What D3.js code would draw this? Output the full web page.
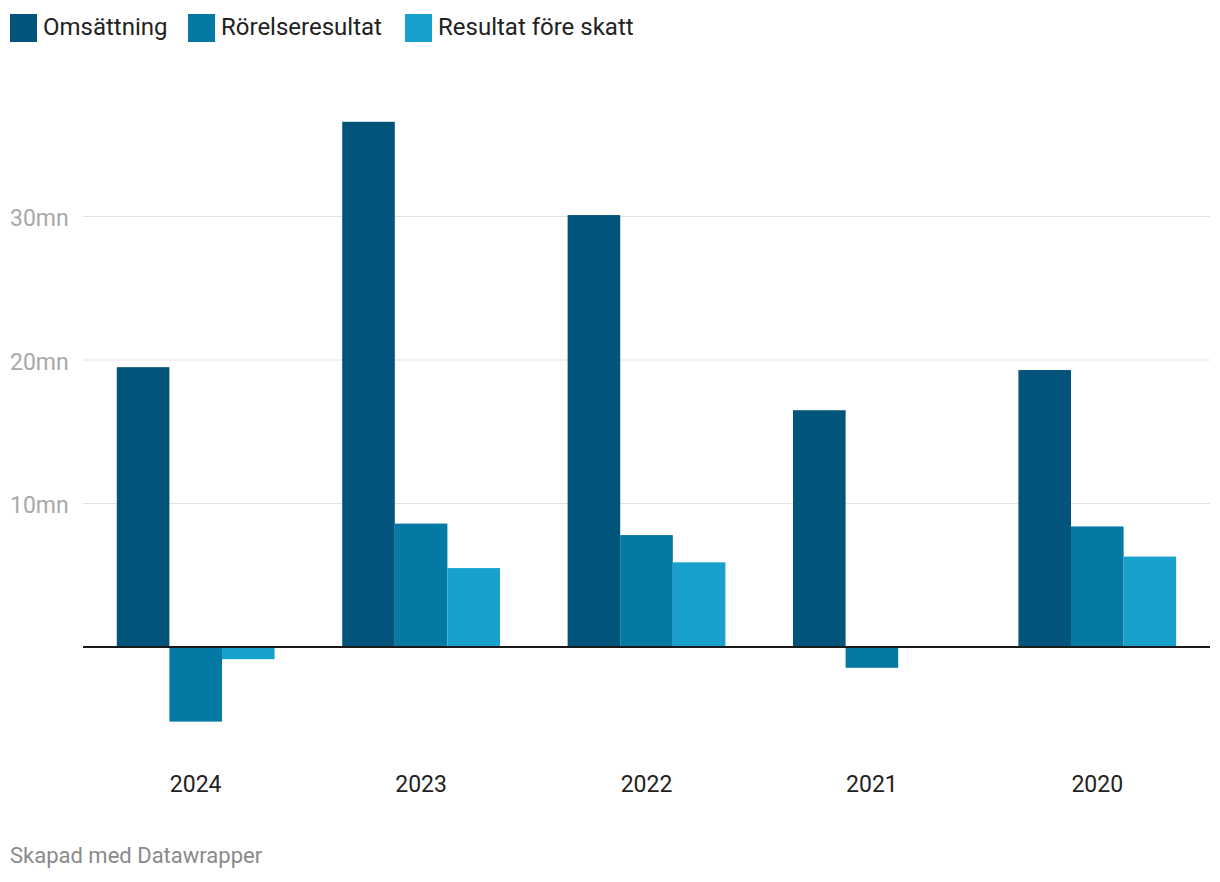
<!DOCTYPE html>
<html>
<head>
<meta charset="utf-8">
<script src="https://cdn.jsdelivr.net/npm/d3@7"></script>
<style>
  body { margin: 0; background: #fff; font-family: Roboto, sans-serif; }
</style>
</head>
<body>
<svg id="canvas" width="1220" height="882"></svg>
<script>
// data, in millions
let years = ['2024', '2023', '2022', '2021', '2020']
let seriesNames = ['Omsättning', 'Rörelseresultat', 'Resultat före skatt']
let omsattning = [19.5, 36.6, 30.1, 16.5, 19.3]
let rorelseresultat = [-5.2, 8.6, 7.8, -1.45, 8.4]
let resultatForeSkatt = [-0.85, 5.5, 5.9, 0, 6.3]
let yTicks = [10, 20, 30]
let colors = ['#03547b', '#0479a3', '#19a1ce']

let seriesValues = [omsattning, rorelseresultat, resultatForeSkatt]

let canvas = d3.select('#canvas')

let x = d3.scaleBand()
    .domain(years)
    .range([83, 1210])
    .paddingInner(0.3)
    .paddingOuter(0.15)

let xInner = d3.scaleBand()
    .domain(seriesNames)
    .range([0, x.bandwidth()])

let y = d3.scaleLinear()
    .domain([0, 30])
    .range([647, 216.5])

// gridlines + labels
canvas.selectAll('line.grid')
    .data(yTicks)
    .enter()
    .append('line')
    .attr('class', 'grid')
    .attr('x1', 83)
    .attr('x2', 1210)
    .attr('y1', d => y(d))
    .attr('y2', d => y(d))
    .attr('stroke', '#e2e2e2')
    .attr('stroke-width', 1)

canvas.selectAll('text.ytick')
    .data(yTicks)
    .enter()
    .append('text')
    .attr('class', 'ytick')
    .attr('x', 10)
    .attr('y', d => y(d) + 9.5)
    .attr('fill', '#a8a8a8')
    .style('font-size', '23px')
    .text(d => d + 'mn')

// bars
let groups = canvas.selectAll('g.year')
    .data(years)
    .enter()
    .append('g')
    .attr('class', 'year')
    .attr('transform', d => 'translate(' + x(d) + ',0)')

groups.selectAll('rect')
    .data((year, i) => seriesNames.map((name, s) => ({ name: name, value: seriesValues[s][i], color: colors[s] })))
    .enter()
    .append('rect')
    .attr('x', d => xInner(d.name))
    .attr('width', xInner.bandwidth())
    .attr('y', d => y(Math.max(0, d.value)))
    .attr('height', d => Math.abs(y(d.value) - y(0)))
    .attr('fill', d => d.color)

// zero line
canvas.append('line')
    .attr('x1', 83)
    .attr('x2', 1210)
    .attr('y1', y(0))
    .attr('y2', y(0))
    .attr('stroke', '#1a1a1a')
    .attr('stroke-width', 2)

// year labels
canvas.selectAll('text.xlabel')
    .data(years)
    .enter()
    .append('text')
    .attr('class', 'xlabel')
    .attr('x', d => x(d) + x.bandwidth() / 2)
    .attr('y', 792)
    .attr('text-anchor', 'middle')
    .attr('fill', '#222')
    .style('font-size', '23px')
    .text(d => d)

// legend
let legendX = [10, 188, 405]
let legend = canvas.selectAll('g.legend')
    .data(seriesNames)
    .enter()
    .append('g')
    .attr('class', 'legend')
    .attr('transform', (d, i) => 'translate(' + legendX[i] + ',0)')

legend.append('rect')
    .attr('x', 0)
    .attr('y', 14)
    .attr('width', 27)
    .attr('height', 28)
    .attr('fill', (d, i) => colors[i])

legend.append('text')
    .attr('x', 33)
    .attr('y', 35)
    .attr('fill', '#222')
    .style('font-size', '24px')
    .text(d => d)

// footer
canvas.append('text')
    .attr('x', 10)
    .attr('y', 863)
    .attr('fill', '#8a8a8a')
    .style('font-size', '22px')
    .text('Skapad med Datawrapper')
</script>
</body>
</html>
